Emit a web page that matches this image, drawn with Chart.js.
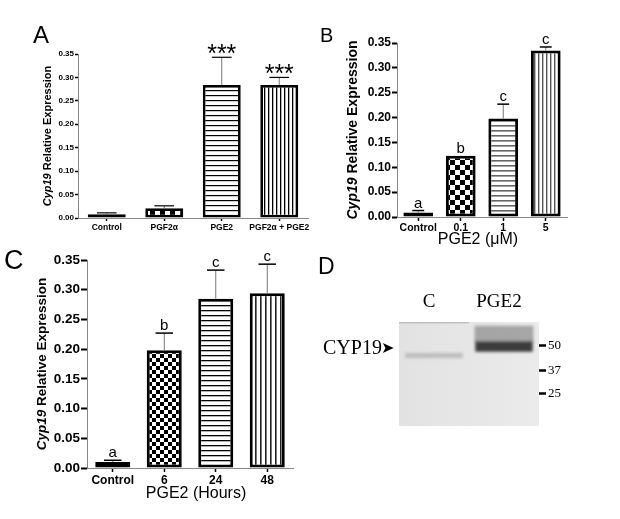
<!DOCTYPE html>
<html><head><meta charset="utf-8">
<script src="https://cdn.jsdelivr.net/npm/chart.js@4.4.1/dist/chart.umd.min.js"></script>
<style>
html,body{margin:0;padding:0;background:#fff;width:620px;height:519px;overflow:hidden;position:relative}
canvas{position:absolute;display:block}
.t{position:absolute;line-height:1;color:#000;white-space:nowrap}
.sans{font-family:"Liberation Sans",Arial,Helvetica,sans-serif}
.serif{font-family:"Liberation Serif","Times New Roman",serif}
</style></head><body>
<canvas id="cA" width="330" height="210" style="left:0;top:40px"></canvas>
<canvas id="cB" width="310" height="230" style="left:310px;top:20px"></canvas>
<canvas id="cC" width="310" height="269" style="left:0;top:250px"></canvas>
<canvas id="cD" width="300" height="150" style="left:320px;top:290px"></canvas>
<div class="t sans" style="left:33px;top:22.7px;font-size:24px">A</div>
<div class="t sans" style="left:320px;top:25px;font-size:20px">B</div>
<div class="t sans" style="left:4px;top:247px;font-size:27px">C</div>
<div class="t sans" style="left:318px;top:254.5px;font-size:23px">D</div>
<div class="t serif" style="left:323px;top:337px;font-size:20px">CYP19<span style="font-family:'DejaVu Sans';font-size:16px;position:relative;top:-1px;margin-left:-1px">➤</span></div>
<script>
// ---------- data ----------
const catsA = ['Control', 'PGF2α', 'PGE2', 'PGF2α + PGE2'];
const valsA = [0.008, 0.021, 0.284, 0.284];
const errA  = [0.003, 0.005, 0.059, 0.016];
const sigA  = ['', '', '***', '***'];

const catsB = ['Control', '0.1', '1', '5'];
const valsB = [0.009, 0.123, 0.198, 0.335];
const errB  = [0.004, 0, 0.029, 0.007];
const sigB  = ['a', 'b', 'c', 'c'];

const catsC = ['Control', '6', '24', '48'];
const valsC = [0.010, 0.198, 0.285, 0.294];
const errC  = [0.003, 0.029, 0.048, 0.049];
const sigC  = ['a', 'b', 'c', 'c'];

const yMin = 0, yMax = 0.35, yStep = 0.05;

const lanesD = ['C', 'PGE2'];
const markerKDa = [50, 37, 25];
const bandD  = [[43.8, 46.4], [47.0, 52.6]];   // main CYP19 band (kDa range)
const smearD = [null, [52.0, 60.5]];           // smear above band

// ---------- helpers ----------
const FAM = '"Liberation Sans", Arial, Helvetica, sans-serif';
function pat(draw, w, h) {
  const c = document.createElement('canvas'); c.width = w; c.height = h;
  const g = c.getContext('2d'); g.fillStyle = '#fff'; g.fillRect(0, 0, w, h); draw(g);
  return g.createPattern(c, 'repeat');
}
const checker = s => pat(g => { g.fillStyle = '#000'; g.fillRect(0, 0, s, s); g.fillRect(s, s, s, s); }, 2 * s, 2 * s);
const hlines = (sp, lw, col) => pat(g => { g.fillStyle = col; g.fillRect(0, 0, sp, lw); }, sp, sp);
const vlines = (sp, lw, col) => pat(g => { g.fillStyle = col; g.fillRect(0, 0, lw, sp); }, sp, sp);

const errPlugin = {
  id: 'errbars',
  afterDatasetsDraw(chart, args, o) {
    if (!o.errs) return;
    const ctx = chart.ctx, y = chart.scales.y, meta = chart.getDatasetMeta(0);
    const vals = chart.data.datasets[0].data;
    meta.data.forEach((bar, i) => {
      const top = y.getPixelForValue(vals[i]);
      const e = y.getPixelForValue(vals[i] + o.errs[i]);
      const hw = bar.width * o.cap / 2;
      ctx.save();
      if (o.errs[i] > 0) {
        ctx.strokeStyle = o.lineColor; ctx.lineWidth = 1;
        ctx.beginPath(); ctx.moveTo(bar.x, top); ctx.lineTo(bar.x, e); ctx.stroke();
        ctx.strokeStyle = '#000'; ctx.lineWidth = o.capW;
        ctx.beginPath(); ctx.moveTo(bar.x - hw, e); ctx.lineTo(bar.x + hw, e); ctx.stroke();
      }
      if (o.sig[i]) {
        ctx.font = o.font; ctx.fillStyle = '#000'; ctx.textAlign = 'center'; ctx.textBaseline = 'alphabetic';
        ctx.fillText(o.sig[i], bar.x, Math.min(e, top) - o.gap);
      }
      ctx.restore();
    });
  }
};
const titlePlugin = {
  id: 'titles',
  afterDraw(chart, args, o) {
    if (!o.size) return;
    const ctx = chart.ctx, a = chart.chartArea;
    ctx.save();
    ctx.translate(o.x, (a.top + a.bottom) / 2 + (o.dy || 0));
    ctx.rotate(-Math.PI / 2);
    const f1 = `italic bold ${o.size}px ${FAM}`, f2 = `bold ${o.size}px ${FAM}`;
    ctx.font = f1; const w1 = ctx.measureText('Cyp19').width;
    ctx.font = f2; const w2 = ctx.measureText(' Relative Expression').width;
    const x0 = -(w1 + w2) / 2;
    ctx.fillStyle = '#000'; ctx.textBaseline = 'middle'; ctx.textAlign = 'left';
    ctx.font = f1; ctx.fillText('Cyp19', x0, 0);
    ctx.font = f2; ctx.fillText(' Relative Expression', x0 + w1, 0);
    ctx.restore();
    if (o.xt) {
      ctx.save();
      ctx.font = `${o.xtSize}px ${FAM}`; ctx.fillStyle = '#000';
      ctx.textAlign = 'center'; ctx.textBaseline = 'middle';
      ctx.fillText(o.xt, (a.left + a.right) / 2 + (o.xtDx || 0), o.xtY);
      ctx.restore();
    }
  }
};

function barChart(id, cats, vals, errs, sig, fills, c) {
  return new Chart(document.getElementById(id), {
    type: 'bar',
    data: { labels: cats, datasets: [{ data: vals, backgroundColor: fills, borderColor: '#000',
      borderWidth: c.bw, borderSkipped: false, barPercentage: c.bp, categoryPercentage: 1 }] },
    options: {
      responsive: false, animation: false, devicePixelRatio: 1,
      layout: { padding: c.pad },
      plugins: {
        legend: { display: false }, tooltip: { enabled: false },
        errbars: { errs, sig, cap: c.cap, capW: c.capW, lineColor: '#777', font: c.sigFont, gap: c.gap },
        titles: c.titles
      },
      scales: {
        x: {
          grid: { display: true, drawOnChartArea: false, offset: false, tickLength: c.xtl, color: '#000', tickWidth: 1.5 },
          border: { color: '#888', width: 1 },
          ticks: { font: { family: FAM, size: c.xfs, weight: 'bold' }, color: '#000', padding: c.xpad, maxRotation: 0, autoSkip: false },
          afterFit: s => { s.height = c.xh; }
        },
        y: {
          min: yMin, max: yMax,
          ticks: { stepSize: yStep, callback: v => Number(v).toFixed(2), font: { family: FAM, size: c.yfs, weight: 'bold' }, color: '#000', padding: 1 },
          grid: { drawOnChartArea: false, tickLength: c.ytl, color: '#000', tickWidth: c.ytw },
          border: { color: '#888', width: 1 },
          afterFit: s => { s.width = c.yw; }
        }
      }
    },
    plugins: [errPlugin, titlePlugin]
  });
}

// Panel A
barChart('cA', catsA, valsA, errA, sigA,
  [checker(2), checker(5), hlines(5, 1.2, '#000'), vlines(4, 1.3, '#000')],
  { bw: 2.8, bp: 0.66, pad: { top: 14, right: 22, bottom: 0, left: 0 }, cap: 0.52, capW: 1.2,
    sigFont: `25px ${FAM}`, gap: -5, xtl: 3, xfs: 8.5, xpad: 2, xh: 32, yfs: 8, ytl: 3, ytw: 1.5, yw: 78,
    titles: { size: 11, x: 48 } });

// Panel B
barChart('cB', catsB, valsB, errB, sigB,
  [checker(2), checker(5), hlines(5, 1.6, '#666'), vlines(4, 1.4, '#555')],
  { bw: 3, bp: 0.7, pad: { top: 23, right: 53, bottom: 0, left: 0 }, cap: 0.4, capW: 1.5,
    sigFont: `15px ${FAM}`, gap: 3, xtl: 4, xfs: 10.5, xpad: 1, xh: 33, yfs: 12, ytl: 5, ytw: 2, yw: 87,
    titles: { size: 14, x: 43, xt: 'PGE2 (μM)', xtSize: 16, xtY: 220, xtDx: -4 } });

// Panel C
barChart('cC', catsC, valsC, errC, sigC,
  [checker(2), checker(4), hlines(5, 1.3, '#000'), vlines(5, 1.6, '#222')],
  { bw: 3, bp: 0.68, pad: { top: 10, right: 17, bottom: 0, left: 0 }, cap: 0.5, capW: 1.5,
    sigFont: `15px ${FAM}`, gap: 3, xtl: 4, xfs: 12, xpad: 1, xh: 51, yfs: 13.5, ytl: 6, ytw: 2, yw: 87,
    titles: { size: 13.5, x: 42, xt: 'PGE2 (Hours)', xtSize: 16, xtY: 244, xtDx: 6 } });

// Panel D (western blot)
const blotBg = {
  id: 'blotBg',
  beforeDatasetsDraw(chart) {
    const ctx = chart.ctx, a = chart.chartArea;
    ctx.save();
    const g = ctx.createLinearGradient(a.left, 0, a.right, 0);
    g.addColorStop(0, '#e2e2e2'); g.addColorStop(1, '#ebebeb');
    ctx.fillStyle = g; ctx.fillRect(a.left, a.top, a.right - a.left, a.bottom - a.top);
    ctx.fillStyle = 'rgba(120,120,120,0.35)';
    ctx.fillRect(a.left, a.top, (a.right - a.left) * 0.5, 1.5);
    ctx.filter = 'blur(1.6px)';
  },
  afterDatasetsDraw(chart) { chart.ctx.restore(); }
};
new Chart(document.getElementById('cD'), {
  type: 'bar',
  data: { labels: lanesD, datasets: [
    { data: smearD, backgroundColor: ['rgba(0,0,0,0)', 'rgba(110,110,110,0.55)'], barPercentage: 0.84, categoryPercentage: 1, grouped: false, borderWidth: 0 },
    { data: bandD, backgroundColor: ['rgba(175,175,175,0.75)', '#3c3c3c'], barPercentage: 0.82, categoryPercentage: 1, grouped: false, borderWidth: 0 }
  ] },
  options: {
    responsive: false, animation: false, devicePixelRatio: 1,
    layout: { padding: { left: 79, top: 0, bottom: 14, right: 0 } },
    plugins: { legend: { display: false }, tooltip: { enabled: false } },
    scales: {
      x: { position: 'top', grid: { display: false }, border: { display: false },
        ticks: { font: { family: '"Liberation Serif", serif', size: 19 }, color: '#000', padding: 1, labelOffset: -5 },
        afterFit: s => { s.height = 32; } },
      y: { position: 'right', min: 8.3, max: 62.5,
        afterBuildTicks: s => { s.ticks = markerKDa.map(v => ({ value: v })); },
        ticks: { font: { family: '"Liberation Serif", serif', size: 13 }, color: '#000', padding: 2, callback: v => String(v) },
        grid: { drawOnChartArea: false, tickLength: 7, tickWidth: 2.5, color: '#000' },
        border: { display: false },
        afterFit: s => { s.width = 81; } }
    }
  },
  plugins: [blotBg]
});
</script>
</body></html>
